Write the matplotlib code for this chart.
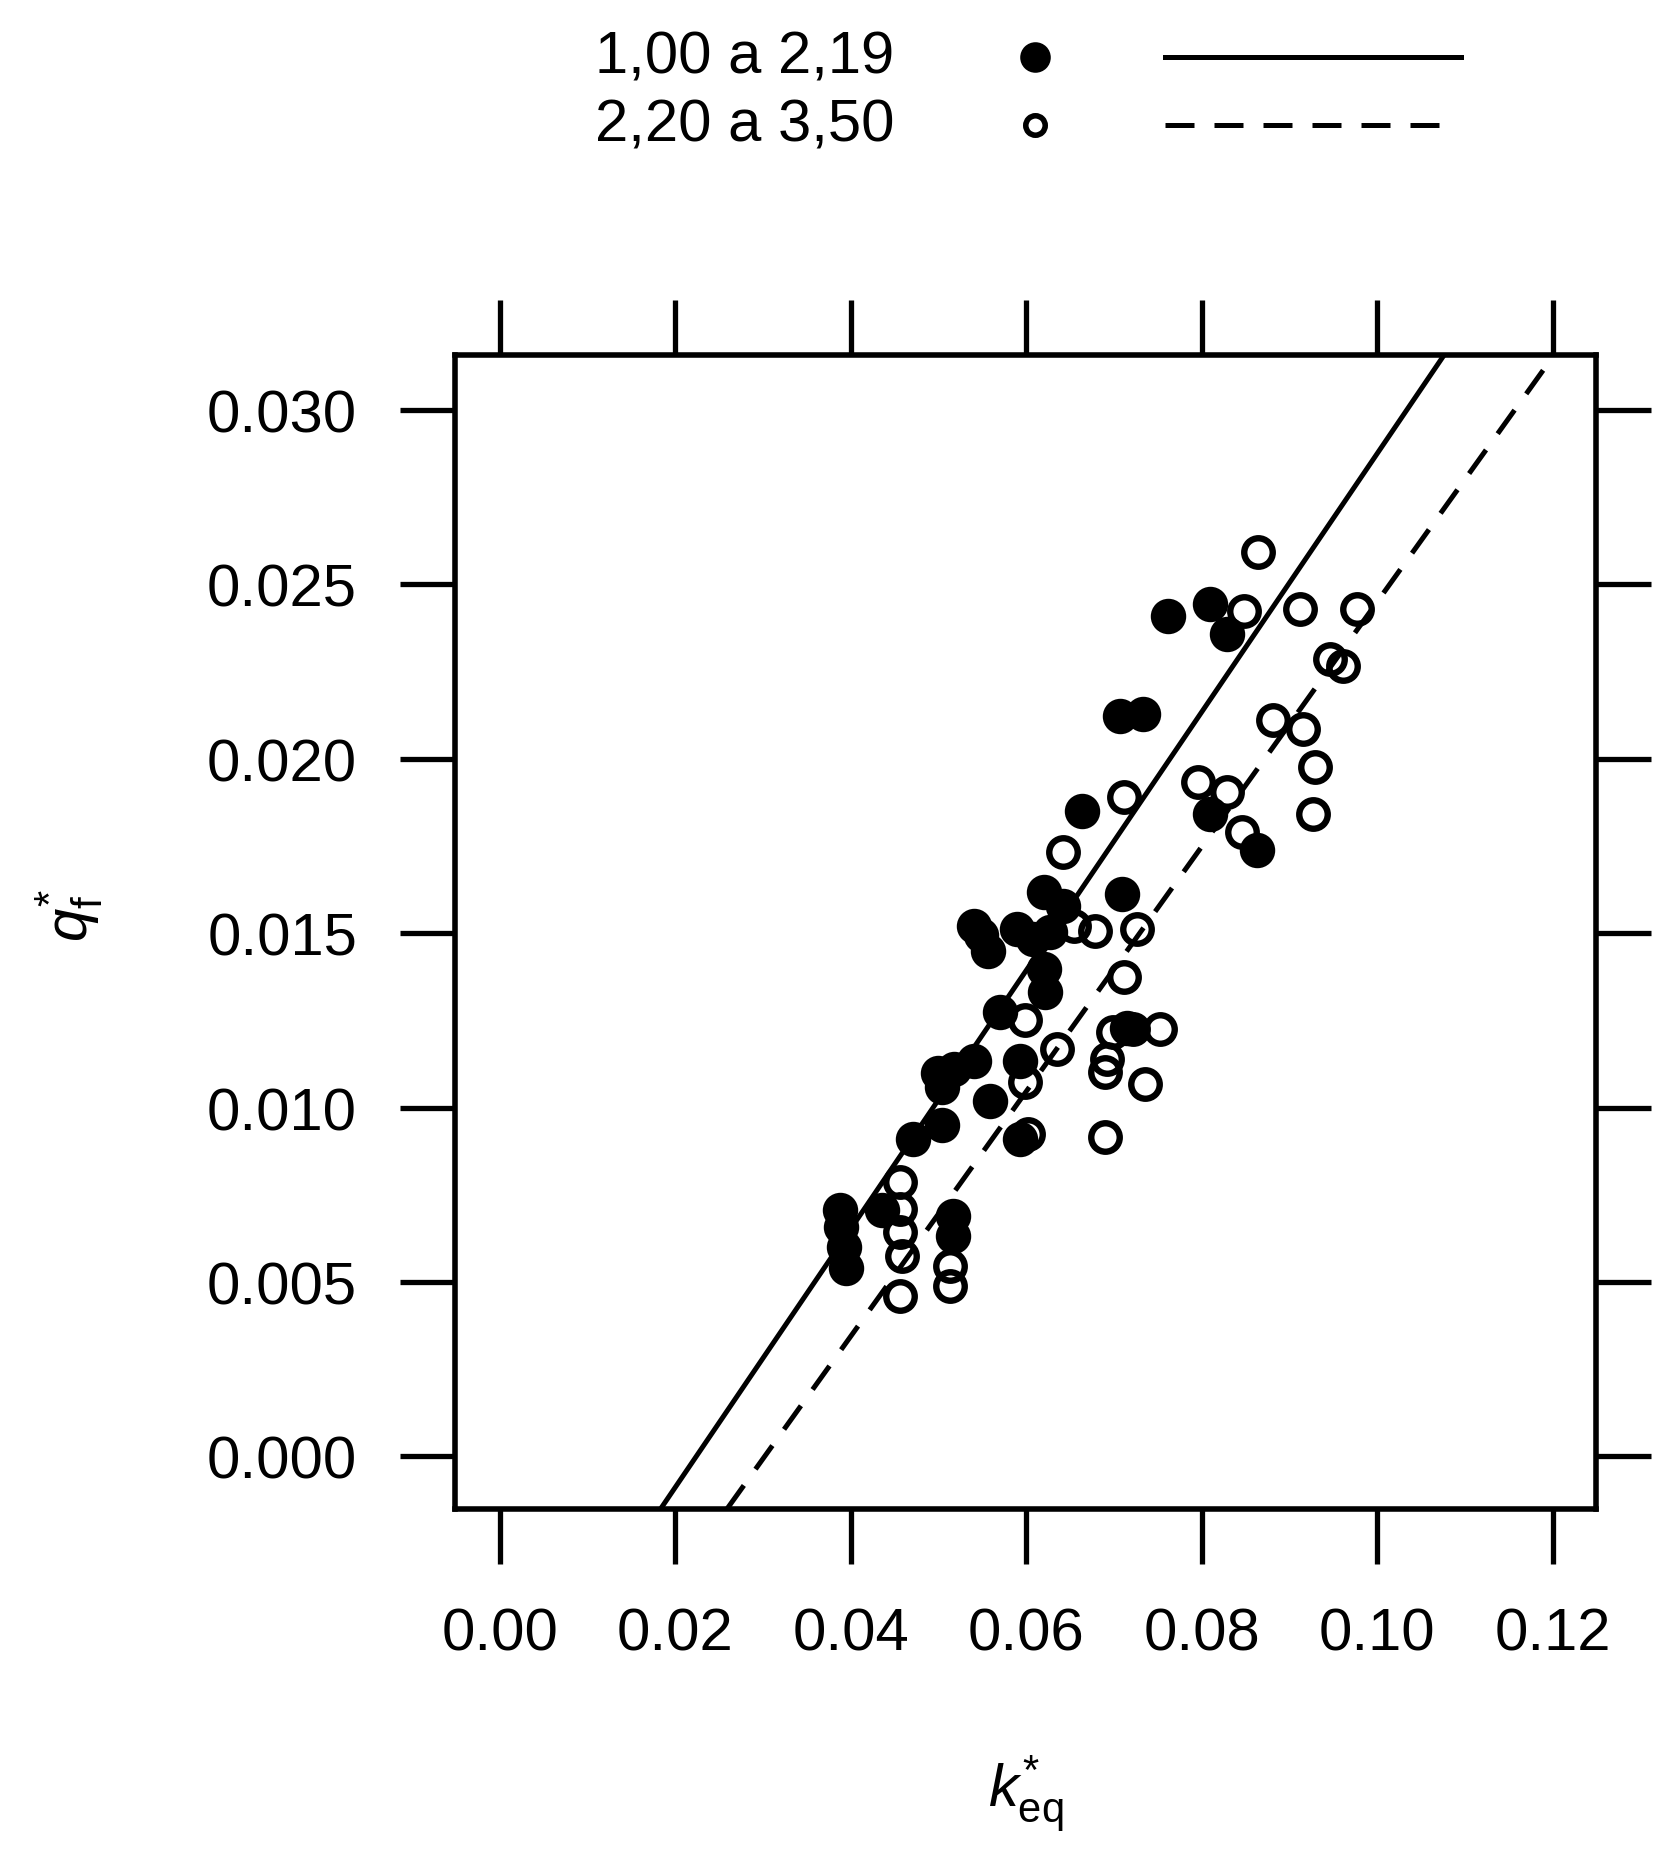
import matplotlib
matplotlib.use('Agg')
import matplotlib.pyplot as plt

plt.rcParams['font.family'] = ['Liberation Sans', 'DejaVu Sans']
plt.rcParams['mathtext.fontset'] = 'custom'
plt.rcParams['mathtext.rm'] = 'Liberation Sans'
plt.rcParams['mathtext.it'] = 'Liberation Sans:italic'
plt.rcParams['mathtext.bf'] = 'Liberation Sans:bold'

# ---------------- data ----------------
legend_labels = ['1,00 a 2,19', '2,20 a 3,50']

# group 1 (filled circles)
k_low = [0.0388, 0.0389, 0.0392, 0.0395, 0.0436, 0.0517, 0.0517,
         0.0471, 0.0504,
         0.0500, 0.0504, 0.0518, 0.0541,
         0.0559, 0.0593, 0.0593, 0.0570,
         0.0620, 0.0622,
         0.0541, 0.0548, 0.0556,
         0.0589, 0.0608, 0.0627,
         0.0620, 0.0642, 0.0709, 0.0664,
         0.0707, 0.0733,
         0.0762, 0.0810, 0.0829,
         0.0810, 0.0863, 0.0715]
q_low = [0.00706, 0.00657, 0.00600, 0.00540, 0.00706, 0.00688, 0.00631,
         0.00910, 0.00950,
         0.01100, 0.01060, 0.01110, 0.01135,
         0.01019, 0.01134, 0.00910, 0.01274,
         0.01397, 0.01331,
         0.01522, 0.01495, 0.01450,
         0.01513, 0.01483, 0.01503,
         0.01618, 0.01578, 0.01612, 0.01850,
         0.02123, 0.02129,
         0.02409, 0.02443, 0.02357,
         0.01842, 0.01738, 0.01228]

# group 2 (open circles)
k_high = [0.0456, 0.0456, 0.0456, 0.0458, 0.0456,
          0.0513, 0.0513,
          0.0602, 0.0599, 0.0599, 0.0635,
          0.0690, 0.0692, 0.0690, 0.0699, 0.0722, 0.0753, 0.0735,
          0.0711, 0.0654, 0.0679, 0.0726,
          0.0642, 0.0711,
          0.0796, 0.0829, 0.0846,
          0.0881, 0.0916, 0.0929, 0.0927,
          0.0864, 0.0848, 0.0912, 0.0977,
          0.0946, 0.0961]
q_high = [0.00786, 0.00708, 0.00642, 0.00574, 0.00460,
          0.00546, 0.00489,
          0.00924, 0.01073, 0.01250, 0.01168,
          0.00915, 0.01140, 0.01101, 0.01216, 0.01225, 0.01225, 0.01067,
          0.01374, 0.01520, 0.01506, 0.01512,
          0.01733, 0.01890,
          0.01933, 0.01904, 0.01790,
          0.02110, 0.02085, 0.01977, 0.01842,
          0.02593, 0.02424, 0.02430, 0.02430,
          0.02286, 0.02266]

# fitted lines (slope, intercept)
fit_low = (0.3705, -0.00830)
fit_high = (0.3510, -0.01060)

x_ticks = [0.00, 0.02, 0.04, 0.06, 0.08, 0.10, 0.12]
x_ticklabels = ['0.00', '0.02', '0.04', '0.06', '0.08', '0.10', '0.12']
y_ticks = [0.000, 0.005, 0.010, 0.015, 0.020, 0.025, 0.030]
y_ticklabels = ['0.000', '0.005', '0.010', '0.015', '0.020', '0.025', '0.030']

# ---------------- figure ----------------
W, H = 1676, 1874
fig = plt.figure(figsize=(W / 100, H / 100), dpi=100)
ax = fig.add_axes([455 / W, 1 - 1510 / H, (1596 - 455) / W, (1510 - 356) / H])

LW = 3.6
DASH = (0, (5.8, 4.0))

ax.plot(k_low, q_low, linestyle='none', marker='o', ms=21, mew=4.5,
        mfc='black', mec='black', zorder=3, clip_on=False)
ax.plot(k_high, q_high, linestyle='none', marker='o', ms=20.5, mew=4.6,
        mfc='none', mec='black', zorder=3, clip_on=False)

ax.axline((0, fit_low[1]), slope=fit_low[0], color='black', lw=LW, zorder=4)
ax.axline((0, fit_high[1]), slope=fit_high[0], color='black', lw=LW,
          linestyle=DASH, zorder=4)

ax.set_xlim(-0.0051, 0.12495)
ax.set_ylim(-0.00151, 0.03158)
ax.set_xticks(x_ticks)
ax.set_xticklabels(x_ticklabels)
ax.set_yticks(y_ticks)
ax.set_yticklabels(y_ticklabels)
ax.tick_params(direction='out', length=39.5, width=3.8, top=True, right=True,
               labelsize=43, pad=31, colors='black')
for sp in ax.spines.values():
    sp.set_linewidth(4.0)

ax.set_xlabel(r'$\mathit{k}_{\mathrm{eq}}^{*}$', fontsize=43, va='center')
ax.xaxis.set_label_coords(0.5, -0.247)
ax.set_ylabel(r'$\mathit{q}_{\mathrm{f}}^{*}$', fontsize=43, va='center')
ax.yaxis.set_label_coords(-0.338, 0.515)

# ---------------- key (top) ----------------
kax = fig.add_axes([0, 0, 1, 1], zorder=-1)
kax.set_xlim(0, W)
kax.set_ylim(H, 0)
kax.axis('off')
rows_y = [58, 126]
for lab, yy in zip(legend_labels, rows_y):
    kax.text(894, yy, lab, ha='right', va='center', fontsize=43)
kax.plot([1035], [rows_y[0]], marker='o', ms=19, mew=3, mfc='black', mec='black')
kax.plot([1035], [rows_y[1]], marker='o', ms=14, mew=4, mfc='white', mec='black')
kax.plot([1165, 1461], [rows_y[0], rows_y[0]], color='black', lw=LW)
kax.plot([1165, 1455], [rows_y[1], rows_y[1]], color='black', lw=LW,
         linestyle=DASH)

fig.savefig('out.png', dpi=100)
